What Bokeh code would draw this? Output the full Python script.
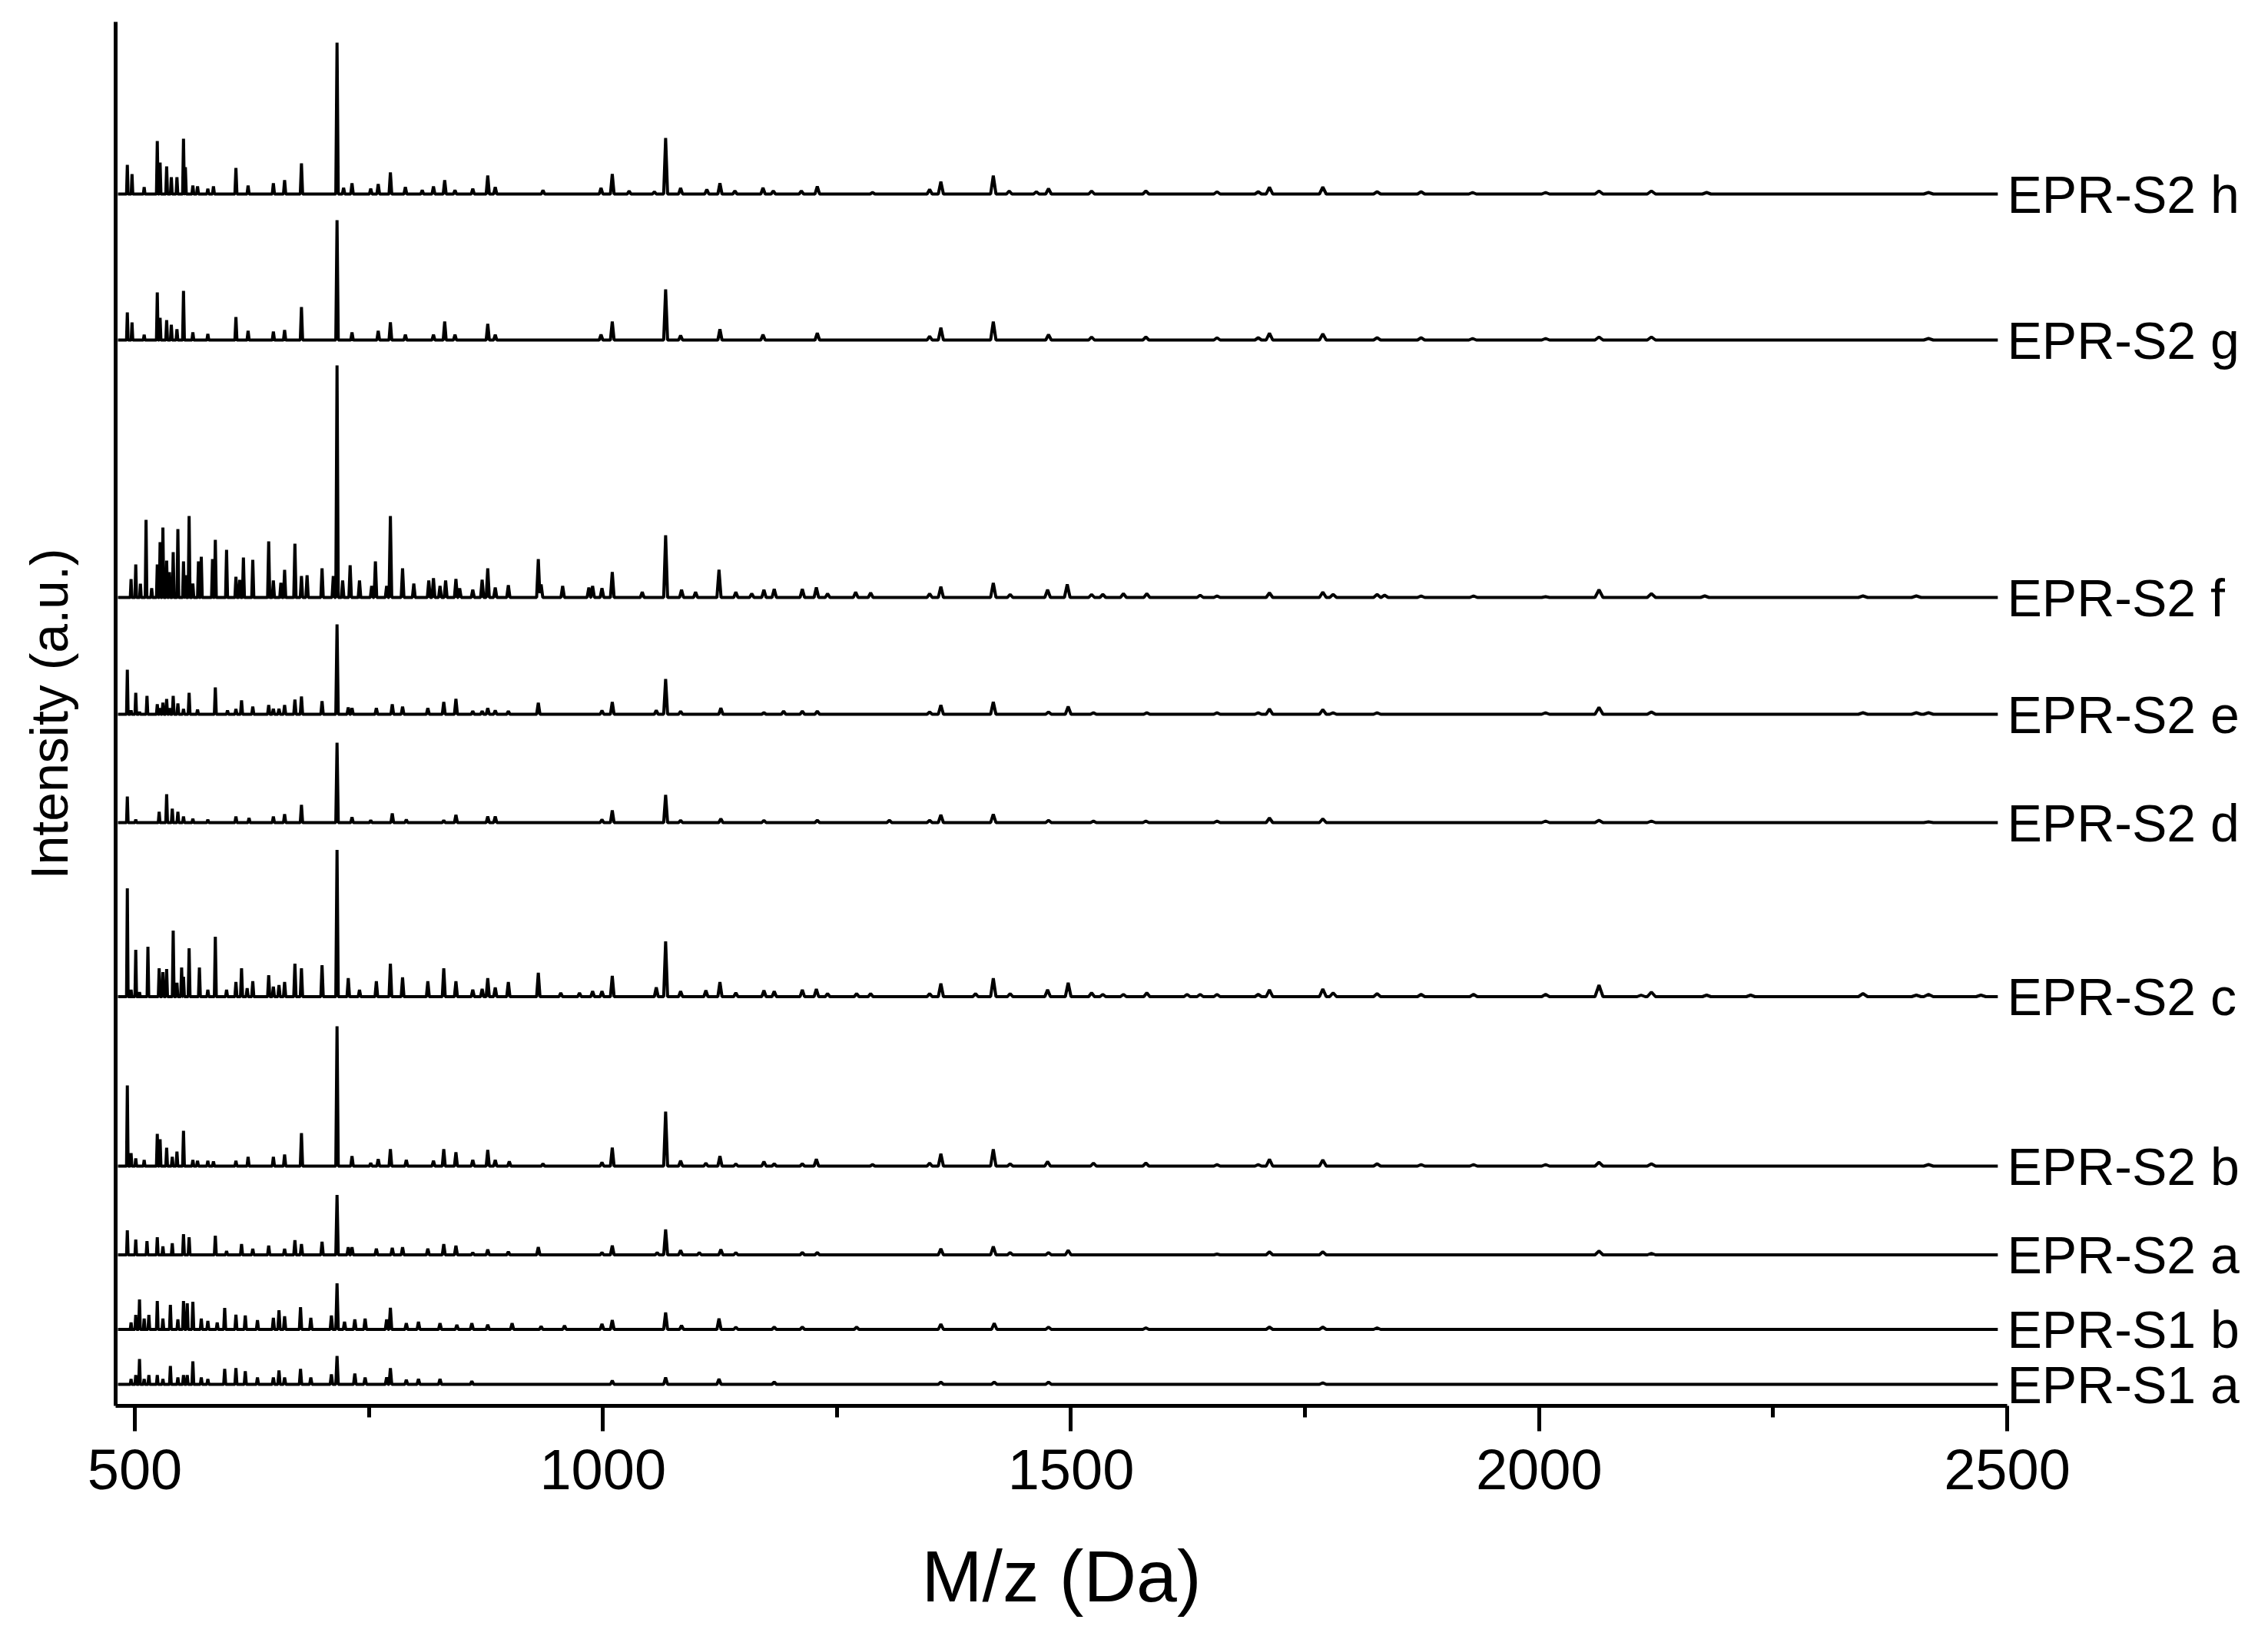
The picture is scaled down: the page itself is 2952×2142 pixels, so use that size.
from bokeh.plotting import figure
from bokeh.models import Range1d, FixedTicker, LinearAxis
from bokeh.embed import file_html
from bokeh.resources import INLINE

# ---------------- data ----------------
names = ["EPR-S2 h", "EPR-S2 g", "EPR-S2 f", "EPR-S2 e", "EPR-S2 d",
         "EPR-S2 c", "EPR-S2 b", "EPR-S2 a", "EPR-S1 b", "EPR-S1 a"]
# vertical stacking offsets (arbitrary intensity units)
offsets = [1577, 1387, 1052, 900, 759, 532.5, 312, 196.5, 99.5, 28]

x_ticks = [500, 1000, 1500, 2000, 2500]
x_minor = [750, 1250, 1750, 2250]
mz_start, mz_end = 482, 2490

S2h_mz = [492, 497, 510, 524, 527, 534, 539, 545, 552, 554, 562, 567, 578, 584, 608, 621, 648, 660, 678, 716,
          723, 732, 752, 760, 773, 789, 807, 819, 831, 842, 861, 877, 885, 936, 998, 1010, 1028, 1055, 1067, 1083,
          1111, 1125, 1141, 1171, 1182, 1212, 1229, 1288, 1349, 1361, 1417, 1434, 1463, 1476, 1522, 1580, 1656,
          1700, 1712, 1769, 1827, 1874, 1929, 2007, 2064, 2120, 2179, 2416]
S2h_int = [38, 26, 9, 69, 41, 36, 22, 22, 72, 35, 11, 10, 7, 10, 34, 11, 14, 18, 40, 197,
           8, 14, 7, 13, 28, 9, 5, 10, 18, 5, 7, 24, 9, 5, 8, 26, 4, 3, 73, 8,
           6, 14, 4, 8, 4, 4, 10, 2, 6, 16, 24, 4, 3, 7, 4, 4, 3,
           3, 9, 9, 3, 3, 2, 2, 4, 4, 2, 2]

S2g_mz = [492, 497, 510, 524, 527, 534, 539, 545, 552, 562, 578, 608, 621, 648, 660, 678, 716, 732, 760, 773,
          789, 819, 831, 842, 877, 885, 998, 1010, 1067, 1083, 1125, 1171, 1229, 1349, 1361, 1417, 1476, 1522,
          1580, 1656, 1700, 1712, 1769, 1827, 1874, 1929, 2007, 2064, 2120, 2416]
S2g_int = [36, 23, 7, 62, 29, 26, 20, 14, 64, 10, 8, 30, 12, 11, 13, 43, 156, 10, 12, 23,
           7, 7, 24, 7, 21, 7, 7, 24, 66, 6, 14, 7, 9, 5, 16, 24, 7, 4,
           4, 3, 3, 9, 8, 3, 3, 2, 2, 4, 4, 2]

S2f_mz = [496, 501, 506, 512, 518, 524, 527, 530, 534, 537, 541, 546, 552, 554, 558, 562, 568, 571, 583, 586,
          598, 608, 612, 616, 626, 643, 648, 656, 660, 671, 678, 684, 700, 712, 716, 722, 730, 740, 753, 757,
          769, 773, 786, 798, 814, 819, 826, 832, 843, 847, 861, 871, 877, 885, 899, 931, 934, 957, 985, 989,
          999, 1010, 1042, 1067, 1084, 1099, 1124, 1142, 1159, 1172, 1183, 1213, 1228, 1240, 1270, 1286, 1349,
          1361, 1417, 1435, 1475, 1496, 1522, 1534, 1556, 1581, 1638, 1656, 1712, 1769, 1780, 1827, 1835, 1874,
          1930, 2007, 2064, 2120, 2177, 2346, 2403]
S2f_int = [24, 43, 18, 101, 12, 43, 72, 91, 48, 33, 59, 89, 47, 29, 106, 18, 47, 53, 50, 75,
           62, 27, 23, 52, 49, 73, 22, 19, 36, 70, 28, 29, 38, 28, 302, 22, 42, 22, 15, 47,
           15, 106, 38, 18, 22, 25, 15, 22, 24, 12, 10, 23, 38, 13, 16, 50, 17, 15, 13, 15,
           12, 33, 7, 81, 10, 7, 36, 7, 5, 10, 11, 11, 13, 5, 7, 6, 5,
           14, 19, 4, 10, 17, 4, 4, 5, 5, 3, 2, 6, 7, 4, 4, 3, 2,
           2, 1, 10, 5, 2, 2, 2]

S2e_mz = [492, 496, 501, 505, 513, 524, 527, 530, 534, 537, 541, 546, 552, 558, 567, 586, 599, 608, 614, 626,
          643, 648, 654, 660, 671, 678, 700, 716, 728, 732, 758, 775, 786, 813, 830, 843, 861, 871, 877, 885,
          899, 931, 999, 1010, 1057, 1067, 1083, 1126, 1172, 1193, 1213, 1229, 1349, 1361, 1417, 1476, 1497,
          1524, 1581, 1656, 1700, 1712, 1769, 1780, 1827, 2007, 2064, 2120, 2346, 2403, 2416]
S2e_int = [58, 5, 28, 3, 24, 13, 8, 15, 20, 8, 24, 14, 7, 28, 6, 35, 5, 7, 18, 10,
           12, 7, 7, 12, 19, 23, 17, 117, 9, 8, 8, 13, 10, 8, 16, 20, 4, 4, 8, 5,
           4, 15, 5, 16, 5, 46, 4, 8, 2, 4, 4, 4, 3, 12, 16, 3, 10,
           2, 2, 2, 2, 7, 6, 2, 2, 2, 9, 3, 2, 2, 2]

S2d_mz = [492, 501, 526, 534, 540, 546, 552, 562, 578, 608, 622, 648, 660, 678, 716, 732, 752, 775, 790, 830,
          843, 877, 885, 999, 1010, 1067, 1083, 1126, 1172, 1229, 1306, 1349, 1361, 1417, 1476, 1524, 1580,
          1656, 1712, 1769, 2007, 2064, 2120, 2416]
S2d_int = [34, 4, 14, 37, 18, 14, 8, 5, 4, 8, 6, 8, 11, 23, 104, 7, 3, 12, 4, 3,
           10, 8, 8, 4, 16, 36, 3, 5, 3, 3, 3, 3, 10, 11, 3, 2, 2,
           2, 6, 5, 2, 3, 2, 1]

S2c_mz = [492, 496, 501, 505, 514, 526, 530, 534, 541, 545, 550, 552, 558, 569, 578, 586, 598, 608, 614, 620,
          626, 643, 648, 654, 660, 671, 678, 700, 716, 728, 740, 758, 773, 786, 813, 830, 843, 861, 871, 877,
          885, 899, 931, 955, 975, 989, 999, 1010, 1057, 1067, 1083, 1110, 1125, 1142, 1172, 1183, 1213, 1228,
          1240, 1271, 1286, 1349, 1361, 1398, 1417, 1435, 1475, 1497, 1522, 1534, 1556, 1581, 1624, 1638, 1656,
          1700, 1712, 1769, 1780, 1827, 1874, 1930, 2007, 2064, 2109, 2120, 2179, 2226, 2346, 2403, 2416, 2472]
S2c_int = [141, 9, 61, 6, 65, 37, 32, 36, 86, 18, 38, 26, 63, 38, 9, 78, 9, 19, 37, 11,
           20, 28, 13, 15, 19, 43, 37, 41, 191, 24, 9, 20, 43, 25, 20, 37, 20, 9, 10, 24,
           12, 19, 31, 5, 5, 7, 7, 27, 12, 72, 7, 8, 19, 5, 8, 7, 9, 10,
           4, 4, 4, 4, 17, 4, 24, 4, 9, 18, 5, 3, 3, 5, 3, 3, 3,
           3, 9, 10, 5, 4, 3, 3, 3, 15, 2, 6, 2, 2, 4, 2, 3, 2]

S2b_mz = [492, 496, 501, 510, 524, 527, 534, 540, 545, 552, 562, 567, 578, 584, 608, 621, 648, 660, 678, 716,
          732, 752, 760, 773, 790, 819, 830, 843, 861, 877, 885, 900, 936, 999, 1010, 1067, 1083, 1110, 1125,
          1142, 1172, 1183, 1213, 1228, 1288, 1349, 1361, 1417, 1435, 1475, 1524, 1580, 1656, 1700, 1712, 1769,
          1827, 1874, 1930, 2007, 2064, 2120, 2416]
S2b_int = [105, 17, 10, 8, 42, 35, 24, 12, 19, 46, 8, 7, 7, 6, 7, 12, 12, 15, 43, 182,
           13, 4, 9, 22, 8, 7, 22, 18, 8, 21, 8, 6, 3, 5, 24, 71, 7, 4, 13,
           3, 6, 3, 3, 9, 2, 4, 16, 22, 3, 6, 4, 4, 2, 2, 9, 8,
           3, 2, 2, 2, 5, 3, 2]

S2a_mz = [492, 501, 513, 524, 530, 540, 552, 558, 586, 598, 614, 626, 643, 660, 671, 678, 700, 716, 728, 732,
          758, 775, 786, 813, 830, 843, 861, 877, 899, 931, 999, 1010, 1058, 1067, 1083, 1103, 1126, 1142, 1213,
          1229, 1361, 1417, 1435, 1476, 1497, 1656, 1712, 1769, 2064, 2120]
S2a_int = [32, 20, 18, 23, 11, 15, 27, 23, 25, 5, 14, 8, 12, 8, 19, 14, 17, 78, 10, 10,
           8, 9, 10, 8, 14, 12, 3, 7, 4, 10, 3, 12, 3, 33, 6, 3, 7, 3, 3,
           3, 8, 11, 3, 3, 6, 1, 4, 4, 5, 2]

S1b_mz = [496, 501, 505, 510, 515, 524, 530, 538, 546, 552, 556, 562, 571, 578, 588, 596, 608, 618, 631, 648,
          654, 660, 677, 688, 710, 716, 724, 735, 746, 769, 773, 790, 803, 826, 844, 860, 877, 903, 934, 959,
          999, 1010, 1067, 1084, 1124, 1142, 1183, 1213, 1271, 1361, 1418, 1476, 1580, 1712, 1769, 1827]
S1b_int = [9, 19, 39, 14, 19, 37, 14, 32, 13, 37, 34, 36, 14, 11, 9, 28, 19, 18, 12, 15,
           25, 17, 29, 15, 18, 60, 10, 13, 14, 13, 28, 8, 10, 8, 6, 8, 6, 8, 4, 5,
           7, 12, 22, 5, 14, 3, 3, 3, 3, 7, 8, 3, 2, 3, 3, 2]

S1a_mz = [496, 501, 505, 510, 515, 524, 530, 538, 546, 552, 556, 562, 571, 578, 596, 608, 618, 631, 648, 654,
          660, 677, 688, 710, 716, 735, 746, 769, 773, 790, 803, 826, 860, 1010, 1067, 1124, 1183, 1361, 1418,
          1476, 1769]
S1a_int = [7, 12, 33, 7, 12, 12, 7, 24, 9, 12, 12, 30, 9, 7, 20, 21, 17, 9, 9, 18,
           9, 20, 9, 13, 37, 14, 9, 9, 21, 6, 7, 7, 4, 5, 9, 7, 3, 3, 3,
           3, 2]

spectra_mz = [S2h_mz, S2g_mz, S2f_mz, S2e_mz, S2d_mz, S2c_mz, S2b_mz, S2a_mz, S1b_mz, S1a_mz]
spectra_int = [S2h_int, S2g_int, S2f_int, S2e_int, S2d_int, S2c_int, S2b_int, S2a_int, S1b_int, S1a_int]

for m, i, n in zip(spectra_mz, spectra_int, names):
    if len(m) != len(i):
        raise ValueError(f"length mismatch for {n}: {len(m)} vs {len(i)}")


def half_width(m):
    # peaks broaden with mass (drawing style only)
    return 0.8 + (m - 480) * 0.0022


def profile(mzs, ints, base):
    ws = [half_width(m) for m in mzs]
    xs = {float(mz_start), float(mz_end)}
    for m, w in zip(mzs, ws):
        xs.update([m - w, float(m), m + w])
    xs = sorted(x for x in xs if mz_start <= x <= mz_end)
    ys = []
    for x in xs:
        best = 0.0
        for m, h, w in zip(mzs, ints, ws):
            d = abs(x - m)
            if d < w:
                v = h * (1 - d / w)
                if v > best:
                    best = v
        ys.append(base + best)
    return xs, ys


# ---------------- figure ----------------
FONT = "Liberation Sans"

p = figure(frame_width=2462, frame_height=1801, output_backend="svg", toolbar_location=None,
           x_range=Range1d(479.5, 2500), y_range=Range1d(0, 1801),
           min_border_left=150, min_border_right=336, min_border_top=28, min_border_bottom=308)
p.title.visible = False
p.xgrid.visible = False
p.ygrid.visible = False
p.outline_line_color = None
p.background_fill_color = "white"
p.border_fill_color = "white"

for m, i, base in zip(spectra_mz, spectra_int, offsets):
    xs, ys = profile(m, i, base)
    p.line(xs, ys, line_color="black", line_width=4)

# series names as a tick-less axis on the right, one label per spectrum baseline
ra = LinearAxis(ticker=FixedTicker(ticks=offsets),
                major_label_overrides={o: n for o, n in zip(offsets, names)})
ra.axis_line_color = None
ra.major_tick_line_color = None
ra.minor_tick_line_color = None
ra.major_tick_out = 0
ra.major_tick_in = 0
ra.minor_tick_out = 0
ra.minor_tick_in = 0
ra.major_label_standoff = 0
ra.major_label_text_font = FONT
ra.major_label_text_font_size = "68px"
ra.major_label_text_color = "black"
p.add_layout(ra, "right")

xa = p.xaxis[0]
xa.ticker = FixedTicker(ticks=x_ticks, minor_ticks=x_minor)
xa.axis_line_width = 5
xa.axis_line_color = "black"
xa.major_tick_line_width = 5
xa.minor_tick_line_width = 5
xa.major_tick_line_color = "black"
xa.minor_tick_line_color = "black"
xa.major_tick_out = 33
xa.major_tick_in = 0
xa.minor_tick_out = 15
xa.minor_tick_in = 0
xa.major_label_text_font = FONT
xa.major_label_text_font_size = "74px"
xa.major_label_text_color = "black"
xa.major_label_standoff = 24
xa.axis_label = "M/z (Da)"
xa.axis_label_text_font = FONT
xa.axis_label_text_font_size = "95px"
xa.axis_label_text_font_style = "normal"
xa.axis_label_text_color = "black"
xa.axis_label_standoff = 57

ya = p.yaxis[0]
ya.ticker = FixedTicker(ticks=[])
ya.major_label_text_font_size = "0px"
ya.major_tick_out = 0
ya.major_tick_in = 0
ya.minor_tick_out = 0
ya.minor_tick_in = 0
ya.axis_line_width = 5
ya.axis_line_color = "black"
ya.axis_label = "Intensity (a.u.)"
ya.axis_label_text_font = FONT
ya.axis_label_text_font_size = "68px"
ya.axis_label_text_font_style = "normal"
ya.axis_label_text_color = "black"
ya.axis_label_standoff = 49

open("out.html", "w").write(file_html(p, INLINE))
